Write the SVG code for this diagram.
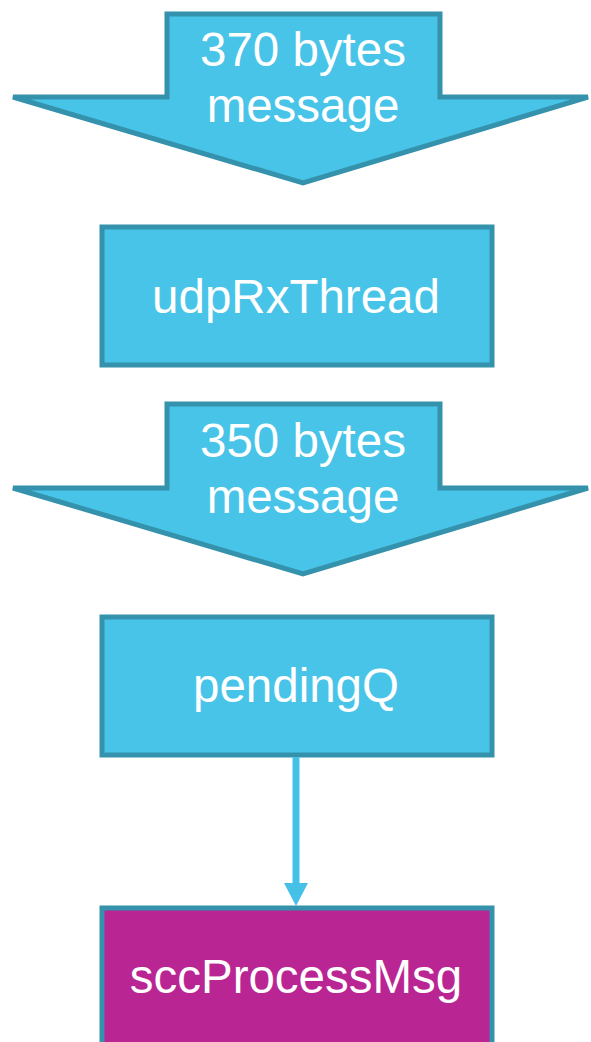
<svg xmlns="http://www.w3.org/2000/svg" width="591" height="1042" viewBox="0 0 591 1042">
<defs>
<style>
.blk{fill:#48C4E8;stroke:#3592AC;stroke-width:5;stroke-linejoin:miter}
.mag{fill:#BA2594;stroke:#3592AC;stroke-width:5}
.t{font-family:"Liberation Sans",Arial,sans-serif;font-size:47.5px;fill:#FFFFFF;text-anchor:middle}
.conn{stroke:#45C1E8;stroke-width:7;fill:none}
.head{fill:#45C1E8}
</style>
</defs>
<rect width="591" height="1042" fill="#FFFFFF"/>
<g id="arrow1">
<polygon class="blk" points="167,14 440,14 440,97 588,97 303,183 13,97 167,97"/>
<text class="t" x="303" y="66">370 bytes</text>
<text class="t" x="303" y="122">message</text>
</g>
<g id="udpRxThread">
<rect class="blk" x="102" y="227" width="390" height="138"/>
<text class="t" x="296" y="313">udpRxThread</text>
</g>
<g id="arrow2">
<polygon class="blk" points="167,404 440,404 440,488 588,488 303,574 13,488 167,488"/>
<text class="t" x="303" y="457">350 bytes</text>
<text class="t" x="303" y="513">message</text>
</g>
<g id="pendingQ">
<rect class="blk" x="102" y="617" width="390" height="138"/>
<text class="t" x="296" y="702">pendingQ</text>
</g>
<g id="sccProcessMsg">
<rect class="mag" x="102" y="908" width="390" height="140"/>
<text class="t" x="296" y="993">sccProcessMsg</text>
</g>
<g id="connectors">
<line x1="296" y1="757" x2="296" y2="885" class="conn"/>
<polygon class="head" points="284,883 308,883 296,906"/>
</g>
</svg>
